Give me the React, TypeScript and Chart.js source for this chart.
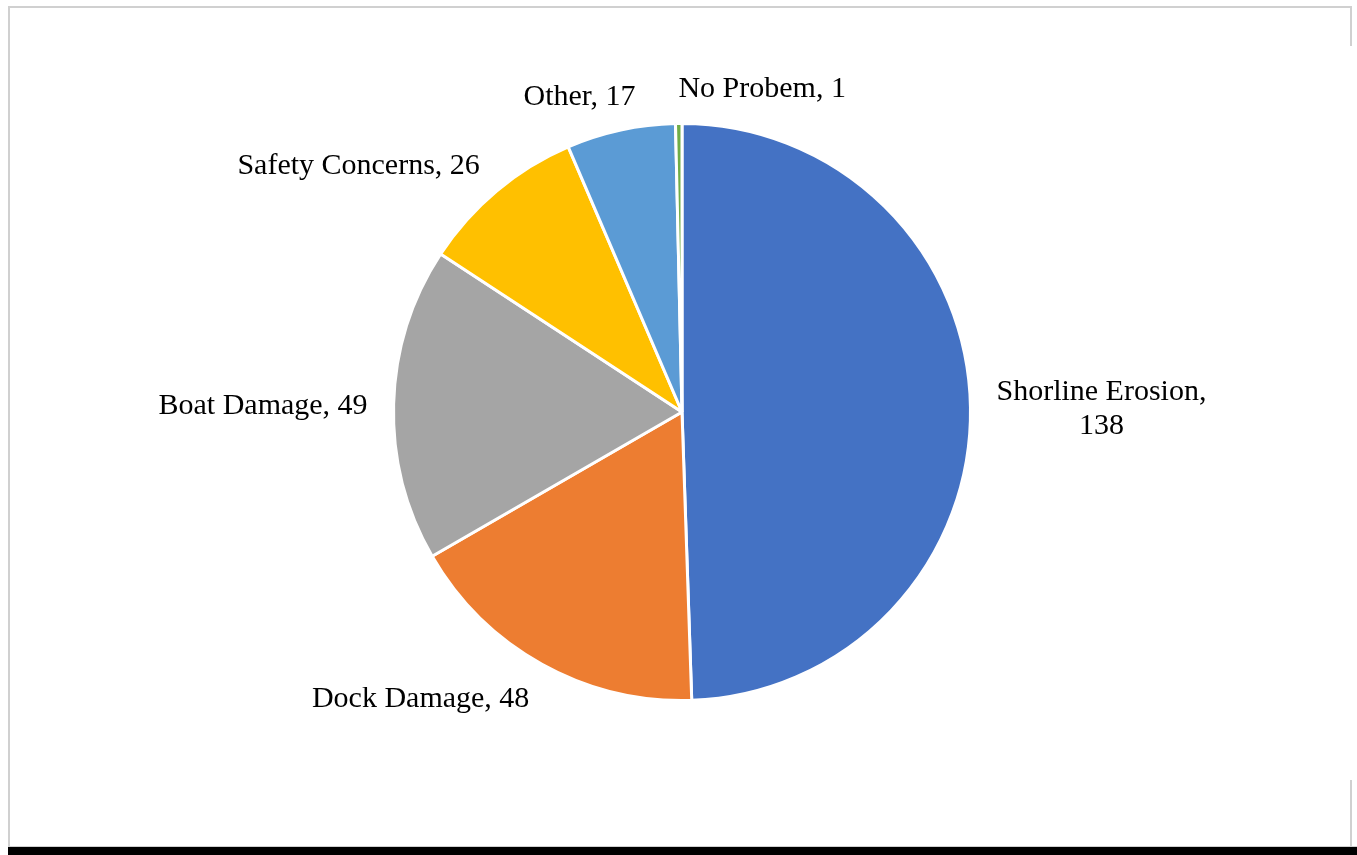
import React, { useEffect, useRef } from "react";
import { Chart, registerables } from "chart.js";

Chart.register(...registerables);

const categories = [
  "Shorline Erosion",
  "Dock Damage",
  "Boat Damage",
  "Safety Concerns",
  "Other",
  "No Probem",
];
const counts = [138, 48, 49, 26, 17, 1];
const sliceColors = ["#4472C4", "#ED7D31", "#A5A5A5", "#FFC000", "#5B9BD5", "#70AD47"];

const LABEL_FONT = '30px "Liberation Serif", "Times New Roman", serif';
const LINE_H = 34;
const GAP_X = 26;
const GAP_Y = 20;
const TEXT_SHIFT = 3;
const WRAP_WIDTH = 255;

type Box = { l: number; r: number; t: number; b: number };

const overlaps = (a: Box, b: Box) => a.l < b.r && a.r > b.l && a.t < b.b && a.b > b.t;

const outsideLabels = {
  id: "outsideLabels",
  afterDatasetsDraw(chart: any) {
    const ctx: CanvasRenderingContext2D = chart.ctx;
    const meta = chart.getDatasetMeta(0);
    const labels = chart.data.labels as string[];
    const values = chart.data.datasets[0].data as number[];
    ctx.save();
    ctx.font = LABEL_FONT;
    ctx.fillStyle = "#000";
    ctx.textAlign = "center";
    ctx.textBaseline = "middle";
    const placed: Box[] = [];
    meta.data.forEach((arc: any, i: number) => {
      const p = arc.getProps(["x", "y", "startAngle", "endAngle", "outerRadius"], true);
      const mid = (p.startAngle + p.endAngle) / 2;
      const dx = Math.cos(mid);
      const dy = Math.sin(mid);
      const text = `${labels[i]}, ${values[i]}`;
      let lines = [text];
      if (ctx.measureText(text).width > WRAP_WIDTH) {
        lines = [];
        let cur = "";
        for (const w of text.split(" ")) {
          const t = cur ? cur + " " + w : w;
          if (cur && ctx.measureText(t).width > WRAP_WIDTH) {
            lines.push(cur);
            cur = w;
          } else cur = t;
        }
        lines.push(cur);
      }
      const w = Math.max(...lines.map((l) => ctx.measureText(l).width));
      const h = lines.length * LINE_H;
      const ax = p.x + p.outerRadius * dx + GAP_X * dx;
      const ay = p.y + p.outerRadius * dy + GAP_Y * dy;
      const fx = Math.max(-1, Math.min(1, dx * 3));
      let cx = ax + (w / 2) * fx;
      const cy = ay + (h / 2) * dy;
      const mk = (c: number): Box => ({ l: c - w / 2, r: c + w / 2, t: cy - h / 2, b: cy + h / 2 });
      let box = mk(cx);
      if (placed.some((b) => overlaps(b, box))) {
        const candidates = [ax + w / 2, ax - w / 2];
        for (const c of candidates) {
          const nb = mk(c);
          if (!placed.some((b) => overlaps(b, nb))) {
            cx = c;
            box = nb;
            break;
          }
        }
      }
      placed.push(box);
      lines.forEach((line, li) => {
        ctx.fillText(line, cx, box.t + LINE_H / 2 + li * LINE_H + TEXT_SHIFT);
      });
    });
    ctx.restore();
  },
};

export default function App() {
  const canvasRef = useRef<HTMLCanvasElement | null>(null);

  useEffect(() => {
    if (!canvasRef.current) return;
    const chart = new Chart(canvasRef.current, {
      type: "pie",
      data: {
        labels: categories,
        datasets: [
          {
            data: counts,
            backgroundColor: sliceColors,
            borderColor: "#ffffff",
            borderWidth: 3,
          },
        ],
      },
      options: {
        responsive: false,
        animation: false,
        devicePixelRatio: 1,
        layout: { padding: { left: 200, right: 193, top: 122, bottom: 153 } },
        plugins: {
          legend: { display: false },
          tooltip: { enabled: false },
        },
      },
      plugins: [outsideLabels],
    });
    return () => chart.destroy();
  }, []);

  const line = (style: React.CSSProperties) => (
    <div style={{ position: "absolute", background: "#d0d0d0", ...style }} />
  );

  return (
    <div style={{ position: "absolute", left: 0, top: 0, width: 1357, height: 855, background: "#fff", overflow: "hidden" }}>
      <canvas ref={canvasRef} width={1357} height={855} style={{ position: "absolute", left: 0, top: 0, width: 1357, height: 855 }} />
      {line({ left: 8, top: 6, width: 1344, height: 2 })}
      {line({ left: 8, top: 6, width: 2, height: 841 })}
      {line({ left: 1350, top: 6, width: 2, height: 40 })}
      {line({ left: 1350, top: 780, width: 2, height: 67 })}
      {line({ left: 8, top: 846, width: 1349, height: 1 })}
      <div style={{ position: "absolute", left: 8, top: 847, width: 1349, height: 8, background: "#000" }} />
    </div>
  );
}
